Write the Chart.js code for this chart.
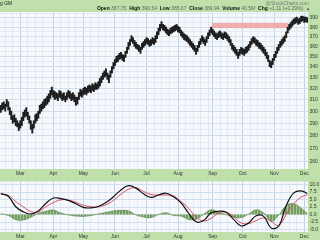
<!DOCTYPE html>
<html>
<head>
<meta charset="utf-8">
<script src="https://cdn.jsdelivr.net/npm/chart.js@4.4.1/dist/chart.umd.min.js"></script>
<style>
  html, body { margin: 0; padding: 0; width: 320px; height: 240px; overflow: hidden; background: #bfe0aa; }
  #price { position: absolute; left: 0; top: 0; }
  #macd { position: absolute; left: 0; top: 177px; }
</style>
</head>
<body>
<canvas id="price" width="320" height="177"></canvas>
<canvas id="macd" width="320" height="63"></canvas>
<script>
// ---- data ----
const chartTitle = 'g GM';
const quoteLabels = ['Open', 'High', 'Low', 'Close', 'Volume', 'Chg'];
const quoteValues = ['387.75', '390.54', '385.07', '389.94', '40.5M', '+1.11 (+0.29%)'];

const monthNames = ['Mar', 'Apr', 'May', 'Jun', 'Jul', 'Aug', 'Sep', 'Oct', 'Nov', 'Dec'];
const monthStarts = [13, 35, 55, 76, 97, 118, 141, 161, 182, 202]; // bar index of 1st trading day

const priceLabels = [260, 270, 280, 290, 300, 310, 320, 330, 340, 350, 360, 370, 380, 390];
const macdLabels = [-5, -2.5, 0, 2.5, 5, 7.5, 10];

// daily lows / highs, one per trading day
const lows = [
  299, 301, 302, 300, 304, 301, 297, 293, 290, 291, 288, 287, 284, 286, 288, 292, 295, 296, 293, 290,
  285, 282, 286, 290, 292, 294, 298, 300, 302, 303, 305, 306, 308, 311, 314, 312, 310, 311, 309, 312,
  311, 309, 310, 308, 310, 312, 311, 309, 310, 308, 305, 306, 310, 313, 312, 314, 315, 314, 316, 317,
  316, 318, 317, 319, 319, 320, 322, 325, 328, 330, 331, 328, 325, 330, 334, 338, 341, 344, 345, 347,
  348, 346, 345, 349, 353, 357, 361, 365, 363, 360, 358, 357, 355, 353, 357, 359, 361, 363, 362, 360,
  361, 363, 362, 364, 368, 372, 376, 379, 377, 376, 374, 372, 371, 373, 374, 375, 376, 377, 375, 374,
  371, 369, 367, 366, 365, 363, 361, 359, 357, 355, 352, 355, 359, 362, 365, 363, 361, 364, 368, 371,
  374, 372, 370, 368, 367, 369, 370, 368, 367, 369, 368, 366, 364, 361, 357, 355, 353, 351, 348, 351,
  353, 352, 351, 353, 354, 356, 359, 362, 364, 363, 361, 360, 358, 357, 355, 353, 351, 348, 345, 340,
  339, 342, 346, 349, 353, 356, 359, 361, 363, 365, 369, 374, 377, 379, 381, 383, 384, 385, 383, 384,
  386, 387, 385, 386, 385.07
];
const highs = [
  305, 307, 308, 306, 310, 308, 303, 300, 296, 297, 294, 292, 290, 292, 295, 299, 301, 303, 299, 296,
  292, 289, 292, 297, 298, 300, 305, 306, 308, 310, 311, 313, 315, 318, 321, 318, 317, 316, 315, 318,
  317, 315, 316, 313, 316, 318, 317, 315, 316, 314, 312, 312, 316, 319, 318, 320, 321, 320, 322, 323,
  322, 324, 323, 325, 324, 326, 329, 331, 334, 336, 338, 334, 332, 336, 340, 344, 347, 350, 351, 353,
  354, 352, 351, 355, 359, 364, 367, 371, 369, 366, 364, 362, 361, 359, 363, 365, 367, 369, 368, 366,
  367, 369, 368, 371, 375, 379, 383, 386, 383, 382, 380, 378, 377, 379, 380, 381, 382, 383, 381, 380,
  377, 375, 373, 372, 371, 369, 367, 365, 363, 361, 358, 361, 365, 368, 371, 369, 367, 370, 374, 377,
  380, 378, 376, 374, 373, 375, 376, 374, 373, 375, 374, 372, 370, 367, 363, 361, 359, 357, 354, 357,
  359, 358, 357, 359, 360, 362, 365, 368, 370, 369, 367, 366, 364, 363, 361, 359, 357, 354, 351, 346,
  345, 348, 352, 355, 359, 362, 365, 367, 369, 371, 375, 380, 383, 385, 387, 389, 390, 391, 389, 390,
  392, 392, 391, 391, 390.54
];

// resistance band (pink)
const bandDays = [140.5, 191.5];
const bandPrices = [379, 384.5];

// MACD panel, read at every 5th day
const macdDays = [0, 5, 10, 15, 20, 25, 30, 35, 40, 45, 50, 55, 60, 65, 70, 75, 80, 85, 90, 95,
  100, 105, 110, 115, 120, 125, 130, 135, 140, 145, 150, 155, 160, 165, 170, 175, 180, 185, 190, 195, 200, 204];
const macdLine = [7.0, 6.1, 2.6, 0.9, 0.2, 1.2, 3.7, 5.5, 5.3, 4.7, 3.6, 2.4, 2.2, 2.7, 4.0, 5.9, 8.2, 9.6, 8.8, 6.9,
  5.7, 6.5, 7.1, 5.9, 3.9, 0.5, -2.4, -2.0, 0.6, 1.1, 0.8, -1.6, -3.8, -2.8, -0.4, -0.6, -4.5, -3.8, 3.0, 7.2, 7.9, 7.0];
const signalLine = [6.8, 6.4, 4.3, 2.6, 1.0, 0.9, 2.6, 4.0, 4.9, 4.8, 4.1, 3.1, 2.6, 2.6, 3.3, 4.7, 6.8, 8.4, 8.9, 7.7,
  6.7, 6.5, 6.5, 6.2, 4.3, 2.1, -0.8, -2.1, -1.3, 0.5, 0.8, -0.7, -2.8, -3.0, -2.0, -1.1, -2.3, -3.6, 0.0, 3.6, 5.8, 6.6];
const histLine = [0.3, -0.3, -1.7, -1.8, -0.9, 0.4, 1.1, 1.5, 0.5, -0.1, -0.5, -0.6, -0.3, 0.2, 0.7, 1.2, 1.4, 1.2, -0.1, -0.8,
  -1.0, 0.0, 0.6, -0.3, -0.5, -1.6, -1.6, 0.1, 1.6, 0.8, 0.0, -0.9, -1.0, 0.2, 1.6, 0.5, -2.2, -0.2, 3.0, 3.6, 2.1, 0.4];

// ---- styling ----
const days = lows.length;
const green = '#bfe0aa';
const plotBg = '#f6f8fc';
const minorGrid = '#e1e9f3';
const majorGrid = '#bad5ea';
const family = '"Liberation Sans", Arial, sans-serif';
Chart.defaults.font.family = family;

// weekly gridlines between month lines
const gridDays = [];
for (let m = 0; m < monthStarts.length; m++) {
  gridDays.push(monthStarts[m]);
  const next = m + 1 < monthStarts.length ? monthStarts[m + 1] : days;
  for (let d = monthStarts[m] + 5; d < next - 2; d += 5) gridDays.push(d);
}
for (let d = monthStarts[0] - 5; d > 0; d -= 5) gridDays.push(d);

const panelBg = {
  id: 'panelBg',
  beforeDraw(chart) {
    const { ctx, chartArea: a } = chart;
    ctx.save();
    ctx.fillStyle = green;
    ctx.fillRect(0, 0, chart.width, chart.height);
    ctx.fillStyle = plotBg;
    ctx.fillRect(a.left, a.top, a.right - a.left, a.bottom - a.top);
    ctx.restore();
  }
};

const header = {
  id: 'header',
  afterDraw(chart) {
    const ctx = chart.ctx;
    ctx.save();
    ctx.textBaseline = 'middle';
    ctx.font = '5px ' + family;
    ctx.fillStyle = '#222';
    ctx.textAlign = 'left';
    ctx.fillText(chartTitle, 0, 3.5);
    ctx.fillStyle = '#777';
    ctx.textAlign = 'right';
    ctx.fillText('@StockCharts.com', 309, 3.5);
    // quote line, right aligned
    ctx.textAlign = 'left';
    let total = 0;
    const bits = [];
    quoteLabels.forEach((l, i) => {
      bits.push({ t: l + ' ', bold: true });
      bits.push({ t: quoteValues[i] + '  ', bold: false });
    });
    bits.forEach(b => {
      ctx.font = (b.bold ? 'bold ' : '') + '5px ' + family;
      b.w = ctx.measureText(b.t).width;
      total += b.w;
    });
    let x = 306 - total;
    bits.forEach(b => {
      ctx.font = (b.bold ? 'bold ' : '') + '5px ' + family;
      ctx.fillStyle = b.bold ? '#111' : '#666';
      ctx.fillText(b.t, x, 9);
      x += b.w;
    });
    ctx.font = '4px ' + family;
    ctx.fillStyle = '#444';
    ctx.fillText('\u25B2', 306, 9);
    ctx.restore();
  }
};

const bandPlugin = {
  id: 'band',
  beforeDatasetsDraw(chart) {
    const { ctx, scales: { x, y } } = chart;
    const x0 = x.getPixelForValue(bandDays[0]);
    const x1 = x.getPixelForValue(bandDays[1]);
    const y0 = y.getPixelForValue(bandPrices[1]);
    const y1 = y.getPixelForValue(bandPrices[0]);
    ctx.save();
    ctx.fillStyle = 'rgba(241, 160, 160, 0.85)';
    ctx.fillRect(x0, y0, x1 - x0, y1 - y0);
    ctx.restore();
  }
};

function monthAxis() {
  return {
    type: 'linear',
    min: -0.5,
    max: days - 0.5,
    offset: false,
    afterBuildTicks(s) { s.ticks = gridDays.map(v => ({ value: v })); },
    afterFit(s) { s.height = 8; },
    ticks: {
      autoSkip: false, maxRotation: 0, padding: 1.5, color: '#333',
      font: { size: 5 },
      callback(v) { const k = monthStarts.indexOf(v); return k >= 0 ? monthNames[k] : ''; }
    },
    grid: {
      offset: false, drawTicks: false, lineWidth: 1,
      color: c => (c.tick && monthStarts.includes(c.tick.value)) ? majorGrid : minorGrid
    },
    border: { display: false }
  };
}

// ---- price chart ----
new Chart(document.getElementById('price'), {
  type: 'bar',
  data: {
    datasets: [{
      data: lows.map((l, i) => ({ x: i, y: [l, highs[i]] })),
      backgroundColor: '#1c1c1c',
      barThickness: 1.3
    }]
  },
  options: {
    responsive: false,
    animation: false,
    events: [],
    layout: { padding: { top: 12, left: 0, right: 0, bottom: 0 } },
    plugins: { legend: { display: false }, tooltip: { enabled: false } },
    scales: {
      x: monthAxis(),
      y: {
        type: 'logarithmic',
        position: 'right',
        min: 254.9,
        max: 396.6,
        afterBuildTicks(s) {
          const t = [];
          priceLabels.forEach(v => { t.push({ value: v }); t.push({ value: v + 5 }); });
          s.ticks = t;
        },
        afterFit(s) { s.width = 12; },
        ticks: { autoSkip: false, padding: 1.5, color: '#333', font: { size: 5 },
          callback: v => priceLabels.includes(v) ? String(v) : '' },
        grid: { drawTicks: false, color: c => (c.tick && priceLabels.includes(c.tick.value)) ? '#cfdfee' : minorGrid },
        border: { display: false }
      }
    }
  },
  plugins: [panelBg, bandPlugin, header]
});

// ---- MACD chart ----
const stripe = document.createElement('canvas');
stripe.width = 3; stripe.height = 1;
const sctx = stripe.getContext('2d');
sctx.fillStyle = '#739d60'; sctx.fillRect(0, 0, 2, 1);
sctx.fillStyle = '#a9c899'; sctx.fillRect(2, 0, 1, 1);
const mctx = document.getElementById('macd').getContext('2d');
const histFill = mctx.createPattern(stripe, 'repeat');

const pts = arr => macdDays.map((d, i) => ({ x: d, y: arr[i] }));

new Chart(mctx, {
  type: 'line',
  data: {
    datasets: [
      { data: pts(macdLine), borderColor: '#111', borderWidth: 1.2, pointRadius: 0, tension: 0.4, order: 0 },
      { data: pts(signalLine), borderColor: '#dc4a66', borderWidth: 1, pointRadius: 0, tension: 0.4, order: 1 },
      { data: pts(histLine), borderColor: '#5d8a4c', borderWidth: 0.7, backgroundColor: histFill,
        fill: 'origin', pointRadius: 0, tension: 0.4, order: 2 }
    ]
  },
  options: {
    responsive: false,
    animation: false,
    events: [],
    layout: { padding: 0 },
    plugins: { legend: { display: false }, tooltip: { enabled: false } },
    scales: {
      x: monthAxis(),
      y: {
        type: 'linear',
        position: 'right',
        min: -5.8,
        max: 11,
        afterBuildTicks(s) { s.ticks = macdLabels.map(v => ({ value: v })); },
        afterFit(s) { s.width = 12; },
        ticks: { autoSkip: false, padding: 1.5, color: '#333', font: { size: 5 },
          callback: v => v.toFixed(1) },
        grid: { drawTicks: false, color: '#cfdfee' },
        border: { display: false }
      }
    }
  },
  plugins: [panelBg]
});
</script>
</body>
</html>
